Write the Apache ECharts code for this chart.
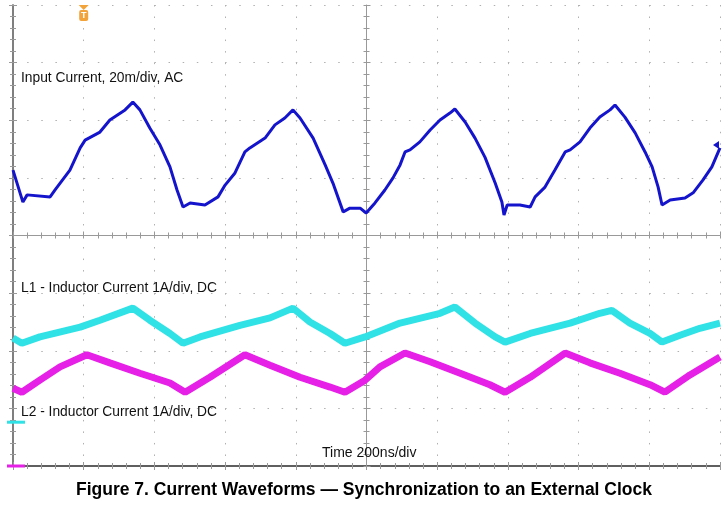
<!DOCTYPE html>
<html><head><meta charset="utf-8">
<script src="https://cdn.jsdelivr.net/npm/echarts@6/dist/echarts.min.js"></script>
<style>html,body{margin:0;padding:0;background:#fff}#c{width:728px;height:505px}</style>
</head><body><div id="c"></div>
<script>
// ---- data (time in ns, 200 ns/div) ----
const inputTime = [0,28,40,105,119,161,190,204,246,274,317,339,359,387,416,444,464,481,501,543,580,600,628,656,670,713,741,769,792,812,849,883,905,934,953,982,999,1024,1052,1075,1095,1109,1123,1151,1180,1208,1236,1250,1279,1307,1335,1364,1383,1389,1398,1434,1463,1477,1505,1533,1562,1576,1604,1632,1660,1689,1703,1731,1760,1788,1808,1825,1836,1859,1901,1924,1952,1977,2000];
// input current, mA (AC coupled, 20 mA/div)
const inputMa = [-3.3,-14.4,-11.9,-12.6,-10.2,-3.3,4.4,7.1,9.9,14.1,17.6,20.3,17.6,11.3,5.4,-2.2,-10.2,-16.1,-14.7,-15.4,-12.6,-8.5,-4.3,3.0,4.4,7.8,12.4,14.8,17.6,14.8,7.8,-1.5,-7.8,-17.8,-16.5,-16.5,-18.2,-14.7,-10.2,-6.0,-1.5,3.0,3.7,6.5,10.6,14.1,16.5,17.9,13.4,7.8,1.2,-7.8,-14.4,-18.9,-15.4,-15.4,-16.1,-12.6,-9.2,-3.3,3.0,3.7,6.5,11.3,15.1,17.6,19.3,15.1,9.6,3.0,-2.2,-9.2,-15.4,-13.7,-13.0,-11.2,-6.7,-2.2,4.4];

const l1Time = [0,25,76,190,246,339,387,444,481,529,642,727,792,840,897,939,996,1095,1208,1250,1307,1364,1392,1463,1576,1660,1694,1745,1802,1836,1887,1943,2000];
// L1 inductor current, A (1 A/div)
const l1Amps = [1.46,1.37,1.48,1.65,1.77,1.98,1.77,1.54,1.37,1.48,1.68,1.81,1.98,1.74,1.54,1.37,1.48,1.72,1.89,2.00,1.72,1.48,1.39,1.54,1.72,1.89,1.94,1.72,1.54,1.39,1.51,1.63,1.72];

const l2Time = [0,25,76,133,209,274,359,444,487,557,656,727,812,897,939,996,1038,1109,1180,1265,1349,1392,1463,1562,1632,1717,1802,1844,1915,2000];
// L2 inductor current, A (1 A/div)
const l2Amps = [1.35,1.28,1.49,1.72,1.93,1.79,1.61,1.44,1.28,1.54,1.93,1.75,1.54,1.37,1.28,1.49,1.72,1.96,1.81,1.61,1.41,1.28,1.54,1.96,1.79,1.61,1.41,1.28,1.58,1.89];

// ---- scope settings ----
const NS_PER_DIV = 200, X_DIVS = 10, Y_DIVS = 8;
const INPUT_MA_PER_DIV = 20, L1_A_PER_DIV = 1, L2_A_PER_DIV = 1;
const INPUT_REF_DIV = 5.3, L1_REF_DIV = 0.76, L2_REF_DIV = 0;

const labels = {
  input: 'Input Current, 20m/div, AC',
  l1: 'L1 - Inductor Current 1A/div, DC',
  l2: 'L2 - Inductor Current 1A/div, DC',
  time: 'Time 200ns/div',
  caption: 'Figure 7. Current Waveforms \u2014 Synchronization to an External Clock'
};

const G = {left: 13, right: 8, top: 5, bottom: 39};
const W = 728, H = 505;
const gw = W - G.left - G.right, gh = H - G.top - G.bottom;

const toDiv = (t, v, perDiv, ref) => t.map((x, i) => [x, v[i] / perDiv + ref]);

const FONT = "'Liberation Sans', Arial, sans-serif";
const tickStyle = {color: '#999', width: 1};
function frameX(pos, extra) {
  return Object.assign({
    type: 'value', min: 0, max: NS_PER_DIV * X_DIVS, interval: NS_PER_DIV, position: pos,
    axisLine: {show: true, lineStyle: {color: '#555', width: 1.5}},
    axisTick: {show: true, inside: true, length: 4, lineStyle: tickStyle},
    minorTick: {show: true, splitNumber: 5, length: 3, lineStyle: tickStyle},
    axisLabel: {show: false}, splitLine: {show: false}
  }, extra || {});
}
function frameY(pos, extra) {
  return Object.assign({
    type: 'value', min: 0, max: Y_DIVS, interval: 1, position: pos,
    axisLine: {show: true, lineStyle: {color: '#777', width: 1.5}},
    axisTick: {show: true, inside: true, length: 4, lineStyle: tickStyle},
    minorTick: {show: true, splitNumber: 5, length: 3, lineStyle: tickStyle},
    axisLabel: {show: false}, splitLine: {show: false}
  }, extra || {});
}

const chart = echarts.init(document.getElementById('c'), null, {renderer: 'canvas'});
const option = {
  animation: false,
  backgroundColor: '#fff',
  grid: {left: G.left, right: G.right, top: G.top, bottom: G.bottom, containLabel: false},
  xAxis: [
    frameX('bottom', {splitLine: {show: true, lineStyle: {color: '#b0b0b0', width: 1, type: [1.5, gh / Y_DIVS / 5 - 1.5]}}}),
    frameX('top'),
    frameX('bottom', {offset: -gh / 2, axisLine: {show: true, lineStyle: {color: '#999', width: 1}}}),
    frameX('bottom', {offset: -gh / 2, axisLine: {show: false}, axisTick: {show: true, inside: false, length: 3, lineStyle: tickStyle}, minorTick: {show: true, splitNumber: 5, length: 3, lineStyle: tickStyle}})
  ],
  yAxis: [
    frameY('left', {splitLine: {show: true, lineStyle: {color: '#b0b0b0', width: 1, type: [1.5, gw / X_DIVS / 5 - 1.5]}}}),
    frameY('right'),
    frameY('left', {offset: -gw / 2, axisLine: {show: true, lineStyle: {color: '#999', width: 1}}}),
    frameY('left', {offset: -gw / 2, axisLine: {show: false}, axisTick: {show: true, inside: false, length: 3, lineStyle: tickStyle}, minorTick: {show: true, splitNumber: 5, length: 3, lineStyle: tickStyle}})
  ],
  series: [
    {name: 'Input', type: 'line', showSymbol: false, xAxisIndex: 0, yAxisIndex: 0,
     data: toDiv(inputTime, inputMa, INPUT_MA_PER_DIV, INPUT_REF_DIV),
     lineStyle: {color: '#1414cc', width: 3}, z: 5},
    {name: 'L1', type: 'line', showSymbol: false, xAxisIndex: 0, yAxisIndex: 0,
     data: toDiv(l1Time, l1Amps, L1_A_PER_DIV, L1_REF_DIV),
     lineStyle: {color: '#30e2e6', width: 7}, z: 4},
    {name: 'L2', type: 'line', showSymbol: false, xAxisIndex: 0, yAxisIndex: 0,
     data: toDiv(l2Time, l2Amps, L2_A_PER_DIV, L2_REF_DIV),
     lineStyle: {color: '#e620e6', width: 7}, z: 4}
  ]
};
chart.setOption(option);

const yPix = d => G.top + (Y_DIVS - d) * gh / Y_DIVS;
const txt = (x, y, t, extra) => ({type: 'text', left: x, top: y, z: 20,
  style: Object.assign({text: t, fontSize: 13.8, fontFamily: FONT, fill: '#111'}, extra || {})});
const trigX = G.left + gw / X_DIVS;
chart.setOption({
  graphic: [
    txt(21, 71, labels.input),
    txt(21, 281, labels.l1),
    txt(21, 405, labels.l2),
    txt(322, 446, labels.time, {fontSize: 14}),
    {type: 'text', left: 'center', top: 481, z: 20,
     style: {text: labels.caption, fontSize: 17.5, fontWeight: 'bold', fontFamily: FONT, fill: '#000'}},
    // trigger marker
    {type: 'polygon', z: 21, shape: {points: [[trigX - 5, G.top], [trigX + 5, G.top], [trigX, G.top + 5]]}, style: {fill: '#f2a33a'}},
    {type: 'rect', z: 21, shape: {x: trigX - 4.5, y: G.top + 5, width: 9, height: 11, r: 2}, style: {fill: '#f2a33a'}},
    {type: 'text', z: 22, x: trigX, y: G.top + 10.5, style: {text: 'T', fontSize: 9, fontWeight: 'bold', fontFamily: FONT, fill: '#fff', align: 'center', verticalAlign: 'middle'}},
    // channel ground markers
    {type: 'rect', z: 21, shape: {x: 7, y: yPix(L1_REF_DIV) - 1.5, width: 18, height: 3}, style: {fill: '#30e2e6'}},
    {type: 'rect', z: 21, shape: {x: 7, y: yPix(L2_REF_DIV) - 1.5, width: 18, height: 3}, style: {fill: '#e620e6'}},
    // input trigger level arrow
    {type: 'polygon', z: 21, shape: {points: [[G.left + gw - 7, 145], [G.left + gw - 1, 141], [G.left + gw - 1, 149]]}, style: {fill: '#1414cc'}}
  ]
});
</script></body></html>
